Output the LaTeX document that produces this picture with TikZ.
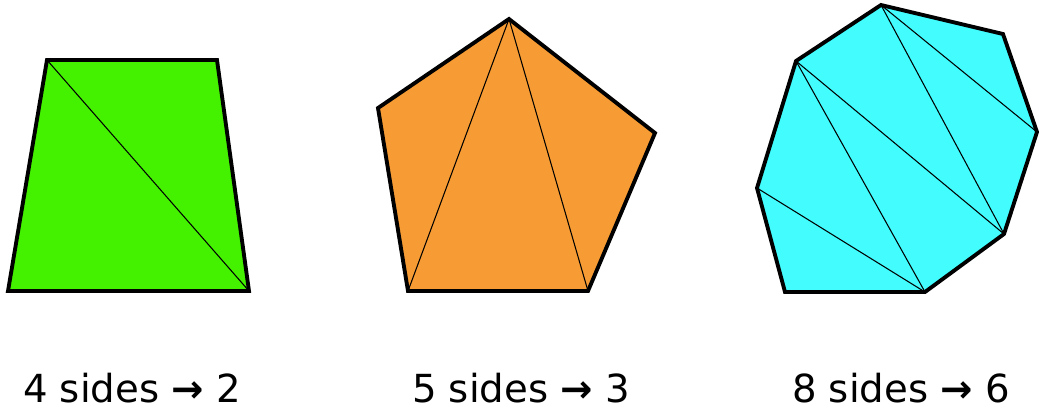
\documentclass[tikz,border=0pt]{standalone}
\usepackage{fontspec}
\setmainfont{DejaVu Sans}
\usepackage{tikz}
\usetikzlibrary{arrows.meta, positioning, calc}
\definecolor{quadgreen}{RGB}{68,242,0}
\definecolor{pentorange}{RGB}{247,156,52}
\definecolor{octcyan}{RGB}{66,252,254}
\newcommand{\sidearrow}{{\bfseries →}}
\tikzset{
    polygon/.style={draw=black, line width=2.2pt, line join=miter},
    diagonal/.style={draw=black, line width=0.6pt},
    caption/.style={anchor=base, inner sep=0pt, font=\fontsize{22}{26}\selectfont}
}

\begin{document}
\begin{tikzpicture}[x=0.02cm, y=-0.02cm]
    \useasboundingbox (0,0) rectangle (1039,410);

    % quadrilateral
    \coordinate (q1) at (47,60);
    \coordinate (q2) at (217,60);
    \coordinate (q3) at (249,291);
    \coordinate (q4) at (8,291);
    \fill[quadgreen] (q1) -- (q2) -- (q3) -- (q4) -- cycle;
    \draw[diagonal] (q1) -- (q3);
    \draw[polygon] (q1) -- (q2) -- (q3) -- (q4) -- cycle;

    % pentagon
    \coordinate (p1) at (509,19);
    \coordinate (p2) at (655,133);
    \coordinate (p3) at (588,291);
    \coordinate (p4) at (408,291);
    \coordinate (p5) at (378,108);
    \fill[pentorange] (p1) -- (p2) -- (p3) -- (p4) -- (p5) -- cycle;
    \draw[diagonal] (p1) -- (p3);
    \draw[diagonal] (p1) -- (p4);
    \draw[polygon] (p1) -- (p2) -- (p3) -- (p4) -- (p5) -- cycle;

    % octagon
    \coordinate (o1) at (881,5);
    \coordinate (o2) at (1003,34);
    \coordinate (o3) at (1037,132);
    \coordinate (o4) at (1004,234);
    \coordinate (o5) at (925,292);
    \coordinate (o6) at (785,292);
    \coordinate (o7) at (757,188);
    \coordinate (o8) at (796,61);
    \fill[octcyan] (o1) -- (o2) -- (o3) -- (o4) -- (o5) -- (o6) -- (o7) -- (o8) -- cycle;
    \draw[diagonal] (o1) -- (o3);
    \draw[diagonal] (o1) -- (o4);
    \draw[diagonal] (o8) -- (o4);
    \draw[diagonal] (o8) -- (o5);
    \draw[diagonal] (o7) -- (o5);
    \draw[polygon] (o1) -- (o2) -- (o3) -- (o4) -- (o5) -- (o6) -- (o7) -- (o8) -- cycle;

    % captions
    \node[caption] (cap4) at (132,402) {4 sides \sidearrow{} 2};
    \node[caption] (cap5) at (521,402) {5 sides \sidearrow{} 3};
    \node[caption] (cap8) at (901,402) {8 sides \sidearrow{} 6};
\end{tikzpicture}
\end{document}
